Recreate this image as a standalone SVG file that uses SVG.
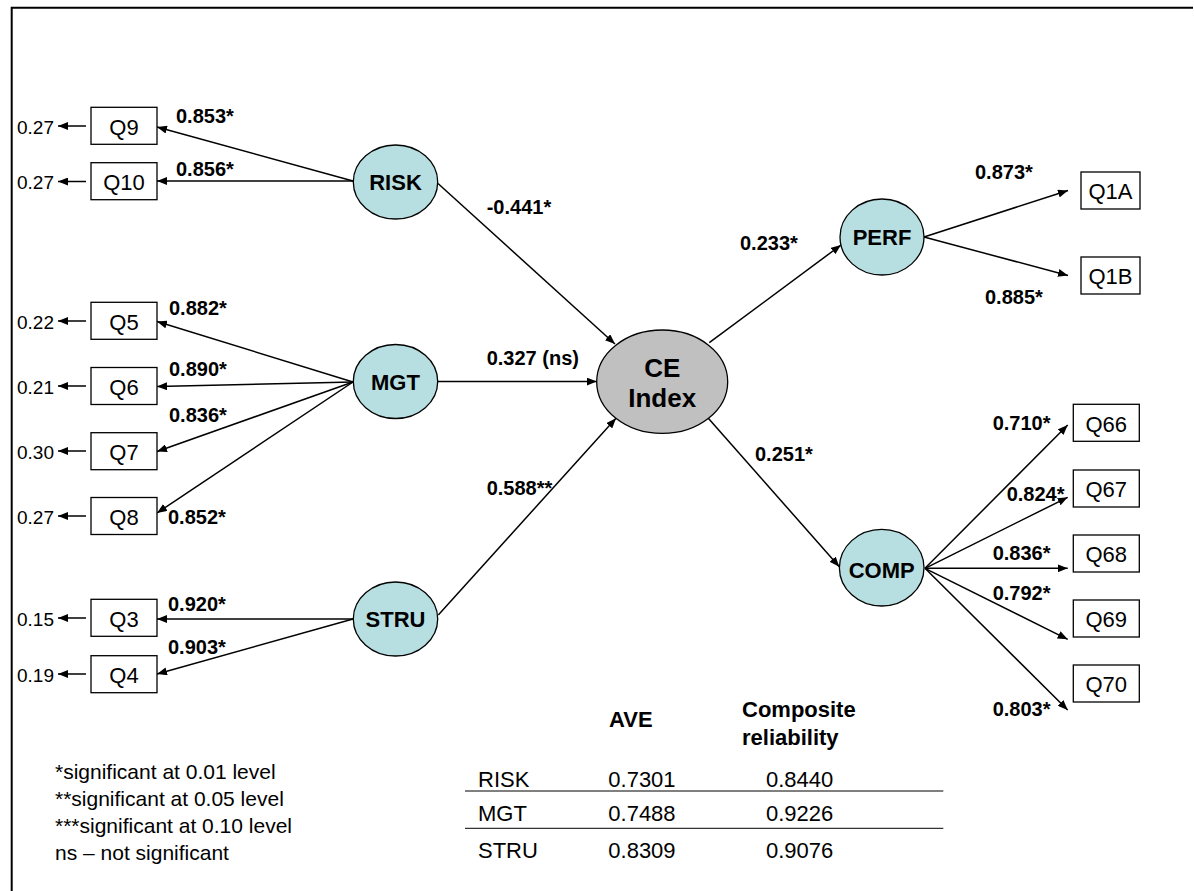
<svg xmlns="http://www.w3.org/2000/svg" width="1194" height="891" viewBox="0 0 1194 891">
  <defs>
    <marker id="arr" viewBox="0 0 10 8" markerWidth="10" markerHeight="8" refX="10" refY="4" orient="auto" markerUnits="userSpaceOnUse">
      <path d="M0,0 L10,4 L0,8 z" fill="#000"/>
    </marker>
    <style>
      text { font-family: "Liberation Sans", Arial, sans-serif; fill: #000; }
      .box rect { fill: #fff; stroke: #000; stroke-width: 1.3; }
      .box text { font-size: 22px; text-anchor: middle; }
      .lat ellipse { fill: #b7dfe1; stroke: #000; stroke-width: 1.3; }
      .lat text { font-size: 22px; font-weight: bold; text-anchor: middle; }
      .core ellipse { fill: #c0c0c0; stroke: #000; stroke-width: 1.3; }
      .core text { font-size: 26px; font-weight: bold; text-anchor: middle; }
      .edge line { stroke: #000; stroke-width: 1.5; marker-end: url(#arr); }
      .lbl { font-size: 20px; font-weight: bold; }
      .err { font-size: 19px; }
      .tbl { font-size: 22px; }
      .tblh { font-size: 22px; font-weight: bold; }
      .note { font-size: 21px; }
    </style>
  </defs>

  <rect width="1194" height="891" fill="#fff"/>
  <!-- frame: top and left rules -->
  <path d="M11.7,891 V7.7 H1193" fill="none" stroke="#000" stroke-width="2"/>

  <!-- connectors -->
  <g id="connectors" class="edge">
    <!-- error terms -->
    <line x1="86" y1="126" x2="58" y2="126"/>
    <line x1="86" y1="181.5" x2="58" y2="181.5"/>
    <line x1="86" y1="321" x2="58" y2="321"/>
    <line x1="86" y1="386" x2="58" y2="386"/>
    <line x1="86" y1="451" x2="58" y2="451"/>
    <line x1="86" y1="516" x2="58" y2="516"/>
    <line x1="86" y1="618" x2="58" y2="618"/>
    <line x1="86" y1="674" x2="58" y2="674"/>
    <!-- RISK loadings -->
    <line x1="353" y1="181" x2="157" y2="127"/>
    <line x1="353" y1="181" x2="157" y2="181"/>
    <!-- MGT loadings -->
    <line x1="353" y1="382" x2="157" y2="321.5"/>
    <line x1="353" y1="382" x2="157" y2="386.5"/>
    <line x1="353" y1="382" x2="157" y2="451.5"/>
    <line x1="353" y1="382" x2="157" y2="513"/>
    <!-- STRU loadings -->
    <line x1="353" y1="619" x2="157" y2="619"/>
    <line x1="353" y1="619" x2="157" y2="674"/>
    <!-- structural paths -->
    <line x1="438" y1="183.5" x2="615" y2="344"/>
    <line x1="437.7" y1="381.5" x2="596.7" y2="381.5"/>
    <line x1="438.3" y1="615" x2="616" y2="418.3"/>
    <line x1="709.3" y1="342.7" x2="841" y2="245"/>
    <line x1="708.3" y1="418.3" x2="839.3" y2="566.7"/>
    <!-- PERF loadings -->
    <line x1="924" y1="237" x2="1068" y2="190.5"/>
    <line x1="924" y1="237" x2="1068" y2="275.5"/>
    <!-- COMP loadings -->
    <line x1="925" y1="568.3" x2="1067.7" y2="425"/>
    <line x1="925" y1="568.3" x2="1067.7" y2="497.3"/>
    <line x1="925" y1="568.3" x2="1067.7" y2="568.3"/>
    <line x1="925" y1="568.3" x2="1067.7" y2="639.3"/>
    <line x1="925" y1="568.3" x2="1067.7" y2="710"/>
  </g>

  <!-- path coefficients -->
  <g id="coefficients" class="lbl">
    <text x="176" y="123">0.853*</text>
    <text x="176" y="175.5">0.856*</text>
    <text x="169" y="315">0.882*</text>
    <text x="169" y="376">0.890*</text>
    <text x="169" y="422">0.836*</text>
    <text x="168" y="523.5">0.852*</text>
    <text x="168" y="611">0.920*</text>
    <text x="168" y="654">0.903*</text>
    <text x="486.7" y="214">-0.441*</text>
    <text x="486.7" y="365">0.327 (ns)</text>
    <text x="486.7" y="495">0.588**</text>
    <text x="740" y="250">0.233*</text>
    <text x="755" y="461">0.251*</text>
    <text x="975" y="179">0.873*</text>
    <text x="985" y="304">0.885*</text>
    <text x="992.7" y="430">0.710*</text>
    <text x="1006.7" y="501">0.824*</text>
    <text x="992.7" y="560">0.836*</text>
    <text x="992.7" y="600">0.792*</text>
    <text x="992.7" y="716">0.803*</text>
  </g>

  <!-- error variances -->
  <g id="errors" class="err">
    <text x="17" y="133.5">0.27</text>
    <text x="17" y="189">0.27</text>
    <text x="17" y="328.5">0.22</text>
    <text x="17" y="393.5">0.21</text>
    <text x="17" y="458.5">0.30</text>
    <text x="17" y="523.5">0.27</text>
    <text x="17" y="625.5">0.15</text>
    <text x="17" y="681.5">0.19</text>
  </g>

  <!-- indicators -->
  <g id="Q9" class="box"><rect x="91" y="107.3" width="66" height="37"/><text x="124" y="134.5">Q9</text></g>
  <g id="Q10" class="box"><rect x="91" y="162.7" width="66" height="37"/><text x="124" y="190">Q10</text></g>
  <g id="Q5" class="box"><rect x="91" y="302.3" width="66" height="37"/><text x="124" y="329.5">Q5</text></g>
  <g id="Q6" class="box"><rect x="91" y="367.5" width="66" height="37"/><text x="124" y="394.5">Q6</text></g>
  <g id="Q7" class="box"><rect x="91" y="432.7" width="66" height="37"/><text x="124" y="459.7">Q7</text></g>
  <g id="Q8" class="box"><rect x="91" y="497.5" width="66" height="37"/><text x="124" y="524.5">Q8</text></g>
  <g id="Q3" class="box"><rect x="91" y="599.3" width="66" height="37"/><text x="124" y="626.5">Q3</text></g>
  <g id="Q4" class="box"><rect x="91" y="655.7" width="66" height="37"/><text x="124" y="682.5">Q4</text></g>
  <g id="Q1A" class="box"><rect x="1081" y="172" width="59" height="37"/><text x="1110.5" y="199">Q1A</text></g>
  <g id="Q1B" class="box"><rect x="1081" y="257" width="59" height="37"/><text x="1110.5" y="284">Q1B</text></g>
  <g id="Q66" class="box"><rect x="1073.3" y="404.3" width="66" height="37"/><text x="1106.3" y="431.5">Q66</text></g>
  <g id="Q67" class="box"><rect x="1073.3" y="470" width="66" height="37"/><text x="1106.3" y="497">Q67</text></g>
  <g id="Q68" class="box"><rect x="1073.3" y="535" width="66" height="37"/><text x="1106.3" y="562">Q68</text></g>
  <g id="Q69" class="box"><rect x="1073.3" y="600" width="66" height="37"/><text x="1106.3" y="627">Q69</text></g>
  <g id="Q70" class="box"><rect x="1073.3" y="665" width="66" height="37"/><text x="1106.3" y="692">Q70</text></g>

  <!-- constructs -->
  <g id="RISK" class="lat"><ellipse cx="395.5" cy="182" rx="42.2" ry="37"/><text x="395.5" y="190">RISK</text></g>
  <g id="MGT" class="lat"><ellipse cx="395.5" cy="381.5" rx="42.2" ry="37"/><text x="395.5" y="390">MGT</text></g>
  <g id="STRU" class="lat"><ellipse cx="395.5" cy="619" rx="42.2" ry="37"/><text x="395.5" y="627">STRU</text></g>
  <g id="PERF" class="lat"><ellipse cx="882" cy="237" rx="42" ry="38"/><text x="882" y="245">PERF</text></g>
  <g id="COMP" class="lat"><ellipse cx="881.7" cy="567.7" rx="42.3" ry="38.3"/><text x="881.7" y="577.5">COMP</text></g>
  <g id="CE" class="core"><ellipse cx="662.2" cy="381.7" rx="65.5" ry="51.7"/><text x="662.2" y="376.7">CE</text><text x="662.2" y="407">Index</text></g>

  <!-- reliability table -->
  <g id="table">
    <text class="tblh" x="609" y="727">AVE</text>
    <text class="tblh" x="742" y="717">Composite</text>
    <text class="tblh" x="742" y="745">reliability</text>
    <text class="tbl" x="478" y="787">RISK</text>
    <text class="tbl" x="608.3" y="787">0.7301</text>
    <text class="tbl" x="766" y="787">0.8440</text>
    <line x1="465" y1="791" x2="943.3" y2="791" stroke="#000" stroke-width="1"/>
    <text class="tbl" x="478" y="820.5">MGT</text>
    <text class="tbl" x="608.3" y="820.5">0.7488</text>
    <text class="tbl" x="766" y="820.5">0.9226</text>
    <line x1="465" y1="828.3" x2="943.3" y2="828.3" stroke="#000" stroke-width="1"/>
    <text class="tbl" x="478" y="858">STRU</text>
    <text class="tbl" x="608.3" y="858">0.8309</text>
    <text class="tbl" x="766" y="858">0.9076</text>
  </g>

  <!-- significance legend -->
  <g id="legend" class="note">
    <text x="55" y="779">*significant at 0.01 level</text>
    <text x="55" y="806">**significant at 0.05 level</text>
    <text x="55" y="833">***significant at 0.10 level</text>
    <text x="55" y="860">ns – not significant</text>
  </g>
</svg>
